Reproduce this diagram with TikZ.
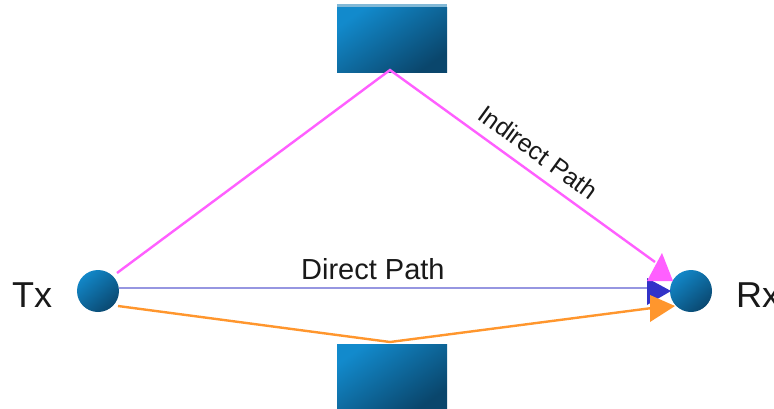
\documentclass[tikz,border=0pt]{standalone}
\usepackage{fontspec}
\setmainfont{Liberation Sans}
\definecolor{pinkp}{RGB}{255,95,255}
\definecolor{orangep}{RGB}{255,150,45}
\definecolor{lavp}{RGB}{150,150,225}
\definecolor{bluep}{RGB}{50,50,200}
\definecolor{ballA}{RGB}{18,135,200}
\definecolor{ballB}{RGB}{10,72,112}
\definecolor{blkA}{RGB}{18,138,204}
\definecolor{blkB}{RGB}{10,70,108}
\definecolor{stripc}{RGB}{130,185,215}
\definecolor{txtc}{RGB}{25,25,25}
\begin{document}
\begin{tikzpicture}[x=1pt,y=-1pt,
  lbl/.style={inner sep=0pt,text=txtc},
  ball/.style={circle,minimum size=42pt,inner sep=0pt,
    left color=ballA,right color=ballB,shading angle=40},
  blk/.style={rectangle,minimum width=110pt,inner sep=0pt,
    left color=blkA,right color=blkB,shading angle=35}]
\useasboundingbox (0,0) rectangle (774,408);
\fill[white] (0,0) rectangle (774,408);
% blocks
\node[blk,minimum height=65pt] (top) at (392,39.5) {};
\fill[stripc] (top.north west) rectangle ([yshift=3pt]top.north east);
\node[blk,minimum height=64pt] (bot) at (392,376) {};
% balls
\node[ball] (tx) at (98,291) {};
\node[ball] (rx) at (691,291) {};
% text
\node[lbl,anchor=base west,font=\fontsize{36}{40}\selectfont] (txl) at (12,307) {Tx};
\node[lbl,anchor=base west,font=\fontsize{36}{40}\selectfont] (rxl) at (736,307) {Rx};
% coordinates
\coordinate (p0) at (117,273);
\coordinate (p1) at (390,70);
\coordinate (p2) at (655,262);
\coordinate (o0) at (118,306);
\coordinate (o1) at (390,342);
\coordinate (o2) at (652,308);
\coordinate (d0) at (119,288);
\coordinate (d2) at (649,288);
% paths
\draw[lavp,line width=2.6pt] (d0) -- (d2);
\draw[orangep,line width=2.4pt] (o0) -- (o1) -- (o2);
\draw[pinkp,line width=2.4pt] (p0) -- (p1) -- (p2);
% arrowheads
\fill[bluep] (647,278) -- (671,291) -- (647,305) -- cycle;
\fill[orangep] (650,295) -- (675,306) -- (650,322) -- cycle;
\fill[pinkp] (662,253) -- (673,281) -- (647,281) -- cycle;
% labels
\node[lbl,anchor=base west,font=\fontsize{29}{32}\selectfont] (dl) at (301,279) {Direct Path};
\node[lbl,anchor=base west,rotate=-36,font=\fontsize{25}{28}\selectfont] (il) at (476,118) {Indirect Path};
\end{tikzpicture}
\end{document}
